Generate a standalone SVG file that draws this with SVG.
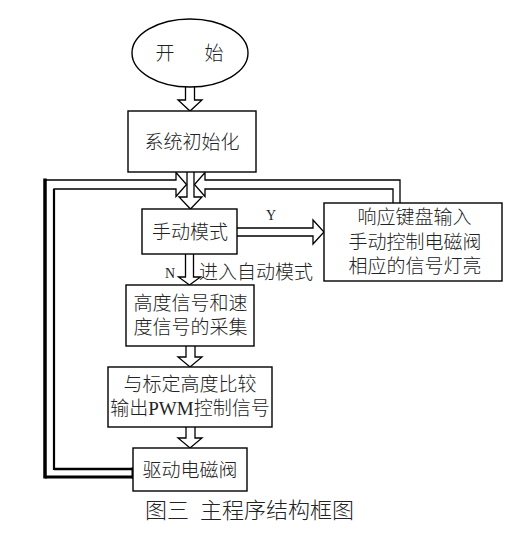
<svg xmlns="http://www.w3.org/2000/svg" width="530" height="534" viewBox="0 0 530 534">
<style>
.box{fill:#fff;stroke:#000;stroke-width:1.4}
.arr{fill:#fff;stroke:#000;stroke-width:1.3;stroke-linejoin:miter}
.t{font-family:"Liberation Serif","Noto Sans CJK SC",serif;font-size:19px;font-weight:300;fill:#222;text-anchor:middle;dominant-baseline:central}
.lat{font-family:"Liberation Serif",serif;font-weight:400}
.lbl{font-family:"Liberation Serif","Noto Sans CJK SC",serif;font-size:14px;fill:#222;text-anchor:middle;dominant-baseline:central}
.thick{fill:none;stroke:#000}
</style>
<rect width="530" height="534" fill="#fff"/>
<g id="connectors">
  <path class="arr" d="M185.5,87 V100 H178 L190,111 L202,100 H194.5 V87"/>
  <path class="arr" d="M187,172 V197 H179 L190.5,209 L202,197 H194 V172"/>
  <path class="arr" d="M393,203 V189 H205 V196.5 L194.5,184.5 L205,172.5 V180 H400 V203"/>
  <path class="arr" d="M133,477 H45 V180 H176 V172.5 L186.5,184.5 L176,196.5 V189 H54 V469 H133"/>
  <g class="thick">
    <line x1="45" y1="178.5" x2="45" y2="478.5" stroke-width="3.5"/>
    <line x1="54" y1="189" x2="54" y2="470" stroke-width="2.2"/>
    <line x1="45" y1="477" x2="134" y2="477" stroke-width="3"/>
    <line x1="54" y1="469" x2="134" y2="469" stroke-width="2.6"/>
    <line x1="133" y1="467.5" x2="133" y2="478.5" stroke-width="3"/>
  </g>
  <path class="arr" d="M237,228 H313 V220 L324,232 L313,244 V236 H237"/>
  <path class="arr" d="M185.5,254 V277 H178.5 L189.5,285 L200.5,277 H193.5 V254"/>
  <path class="arr" d="M186,346 V357 H178 L190,367 L202,357 H195 V346"/>
  <path class="arr" d="M186,427 V438 H178 L190,448 L202,438 H195 V427"/>
  <text class="lbl" x="271" y="215">Y</text>
  <text class="lbl" x="170" y="273">N</text>
  <text class="t" x="256" y="272">进入自动模式</text>
</g>
<g id="start">
  <ellipse class="box" cx="190" cy="53" rx="58" ry="34"/>
  <text class="t" y="53"><tspan x="165">开</tspan><tspan x="214">始</tspan></text>
</g>
<g id="init">
  <rect class="box" x="128" y="111" width="128" height="61"/>
  <text class="t" x="192" y="142">系统初始化</text>
</g>
<g id="manual">
  <rect class="box" x="142" y="209" width="95" height="45"/>
  <text class="t" x="190" y="232">手动模式</text>
</g>
<g id="respond">
  <rect class="box" x="324" y="203" width="178" height="78"/>
  <text class="t" x="414.5" y="217">响应键盘输入</text>
  <text class="t" x="415" y="242">手动控制电磁阀</text>
  <text class="t" x="415" y="266">相应的信号灯亮</text>
</g>
<g id="collect">
  <rect class="box" x="126" y="285" width="128" height="61"/>
  <text class="t" x="190.5" y="303">高度信号和速</text>
  <text class="t" x="190.5" y="327">度信号的采集</text>
</g>
<g id="compare">
  <rect class="box" x="108" y="367" width="164" height="60"/>
  <text class="t" x="190" y="384">与标定高度比较</text>
  <text class="t" x="190" y="408">输出<tspan class="lat">PWM</tspan>控制信号</text>
</g>
<g id="drive">
  <rect class="box" x="133" y="448" width="114" height="43"/>
  <text class="t" x="190" y="470">驱动电磁阀</text>
</g>
<g id="caption">
  <text class="t" style="font-size:22px;text-anchor:start" y="510"><tspan x="145">图三</tspan><tspan x="200">主程序结构框图</tspan></text>
</g>
</svg>
